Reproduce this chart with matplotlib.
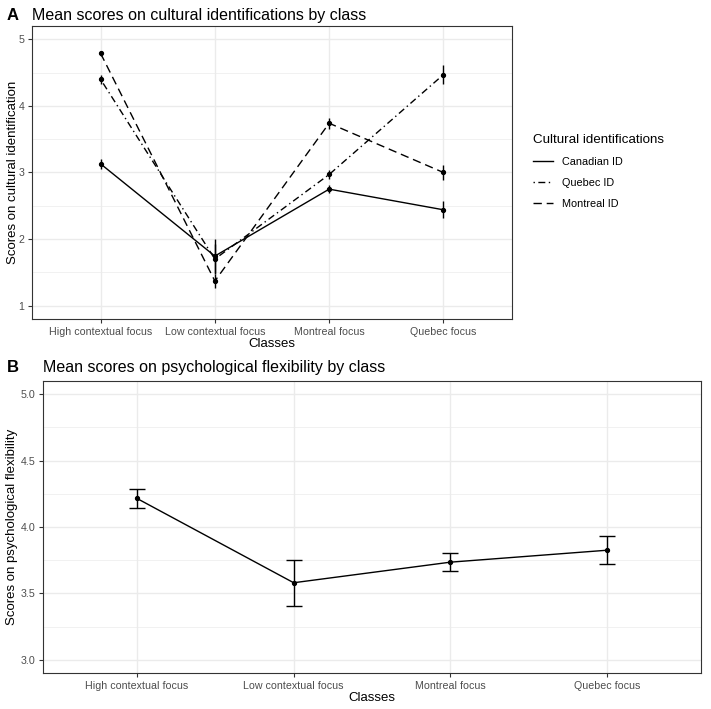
import numpy as np
import matplotlib.pyplot as plt
from matplotlib.ticker import MultipleLocator

plt.rcParams['font.family'] = ['Liberation Sans', 'DejaVu Sans']

classes = ["High contextual focus", "Low contextual focus", "Montreal focus", "Quebec focus"]

# panel A: mean cultural identification scores per class
canadian_id = [3.13, 1.745, 2.75, 2.44]
canadian_err = [0.07, 0.26, 0.06, 0.13]
quebec_id = [4.40, 1.70, 2.97, 4.47]
quebec_err = [0.07, 0.22, 0.07, 0.14]
montreal_id = [4.79, 1.37, 3.74, 3.00]
montreal_err = [0.04, 0.10, 0.08, 0.11]

# panel B: psychological flexibility
flex_mean = [4.215, 3.58, 3.735, 3.825]
flex_lo = [4.145, 3.405, 3.665, 3.72]
flex_hi = [4.29, 3.755, 3.805, 3.93]

GRID = '#EBEBEB'
FRAME = '#333333'
TICKTXT = '#4D4D4D'

W, H = 711, 709
fig = plt.figure(figsize=(W / 100, H / 100), dpi=100)


def px_axes(left, top, right, bottom):
    return fig.add_axes([left / W, 1 - bottom / H, (right - left) / W, (bottom - top) / H])


def style(ax):
    ax.set_facecolor('white')
    for s in ax.spines.values():
        s.set_color(FRAME)
        s.set_linewidth(0.8)
    ax.grid(True, which='major', color=GRID, linewidth=1.0)
    ax.grid(True, which='minor', axis='y', color=GRID, linewidth=0.5)
    ax.set_axisbelow(True)
    ax.tick_params(axis='both', which='major', labelsize=7.7, labelcolor=TICKTXT,
                   color=FRAME, length=3, width=0.8, pad=2.5)
    ax.tick_params(axis='both', which='minor', length=0)


def place_labels(ax, xlab, ylab, top, bottom, left, right, xlab_y, ylab_x):
    ax.set_xlabel(xlab, fontsize=9.5)
    ax.set_ylabel(ylab, fontsize=9.5)
    # positions in axes fraction from pixel targets
    ax.xaxis.set_label_coords(0.5, -(xlab_y - bottom) / (bottom - top))
    ax.yaxis.set_label_coords(-(left - ylab_x) / (right - left), 0.5)
    ax.xaxis.label.set_va('center')
    ax.yaxis.label.set_va('center')


x = np.arange(len(classes))

# ---- panel A
axA = px_axes(32, 26, 512, 319)
style(axA)
series = [
    ("Canadian ID", canadian_id, canadian_err, (None, None)),
    ("Quebec ID", quebec_id, quebec_err, (1, 2.5, 5, 2.5)),
    ("Montreal ID", montreal_id, montreal_err, (6, 3.5)),
]
for name, vals, err, dash in series:
    line, = axA.plot(x, vals, color='black', linewidth=1.0, label=name)
    if dash[0] is not None:
        line.set_dashes(dash)
    axA.errorbar(x, vals, yerr=err, fmt='o', color='black', markersize=2.8,
                 elinewidth=1.0, capsize=0)
axA.set_xlim(-0.6, 3.6)
axA.set_ylim(0.8, 5.2)
axA.yaxis.set_major_locator(MultipleLocator(1))
axA.yaxis.set_minor_locator(MultipleLocator(0.5))
axA.set_xticks(x)
axA.set_xticklabels(classes)
place_labels(axA, "Classes", "Scores on cultural identification",
             26, 319, 32, 512, 344, 13)
fig.text(7 / W, 1 - 20 / H, "A", fontsize=12, fontweight='bold', va='baseline')
fig.text(32 / W, 1 - 20 / H, "Mean scores on cultural identifications by class",
         fontsize=11.5, va='baseline')
leg = axA.legend(loc='upper left', bbox_to_anchor=(533 / W, 1 - 134 / H),
                 bbox_transform=fig.transFigure, frameon=False,
                 title="Cultural identifications", fontsize=7.8, title_fontsize=9.6,
                 handlelength=1.8, handletextpad=0.9, labelspacing=1.0,
                 borderaxespad=0, borderpad=0)
leg._legend_box.align = 'left'

# ---- panel B
axB = px_axes(43, 381, 701, 673)
style(axB)
axB.plot(x, flex_mean, color='black', linewidth=1.0)
yerr = [np.array(flex_mean) - np.array(flex_lo), np.array(flex_hi) - np.array(flex_mean)]
axB.errorbar(x, flex_mean, yerr=yerr, fmt='o', color='black', markersize=2.8,
             elinewidth=1.0, capsize=5.5, capthick=1.0)
axB.set_xlim(-0.6, 3.6)
axB.set_ylim(2.9, 5.1)
axB.yaxis.set_major_locator(MultipleLocator(0.5))
axB.yaxis.set_minor_locator(MultipleLocator(0.25))
axB.yaxis.set_major_formatter(plt.FormatStrFormatter('%.1f'))
axB.set_xticks(x)
axB.set_xticklabels(classes)
place_labels(axB, "Classes", "Scores on psychological flexibility",
             381, 673, 43, 701, 698, 12.5)
fig.text(7 / W, 1 - 372 / H, "B", fontsize=12, fontweight='bold', va='baseline')
fig.text(43 / W, 1 - 372 / H, "Mean scores on psychological flexibility by class",
         fontsize=11.5, va='baseline')

fig.savefig('out.png', dpi=100)
